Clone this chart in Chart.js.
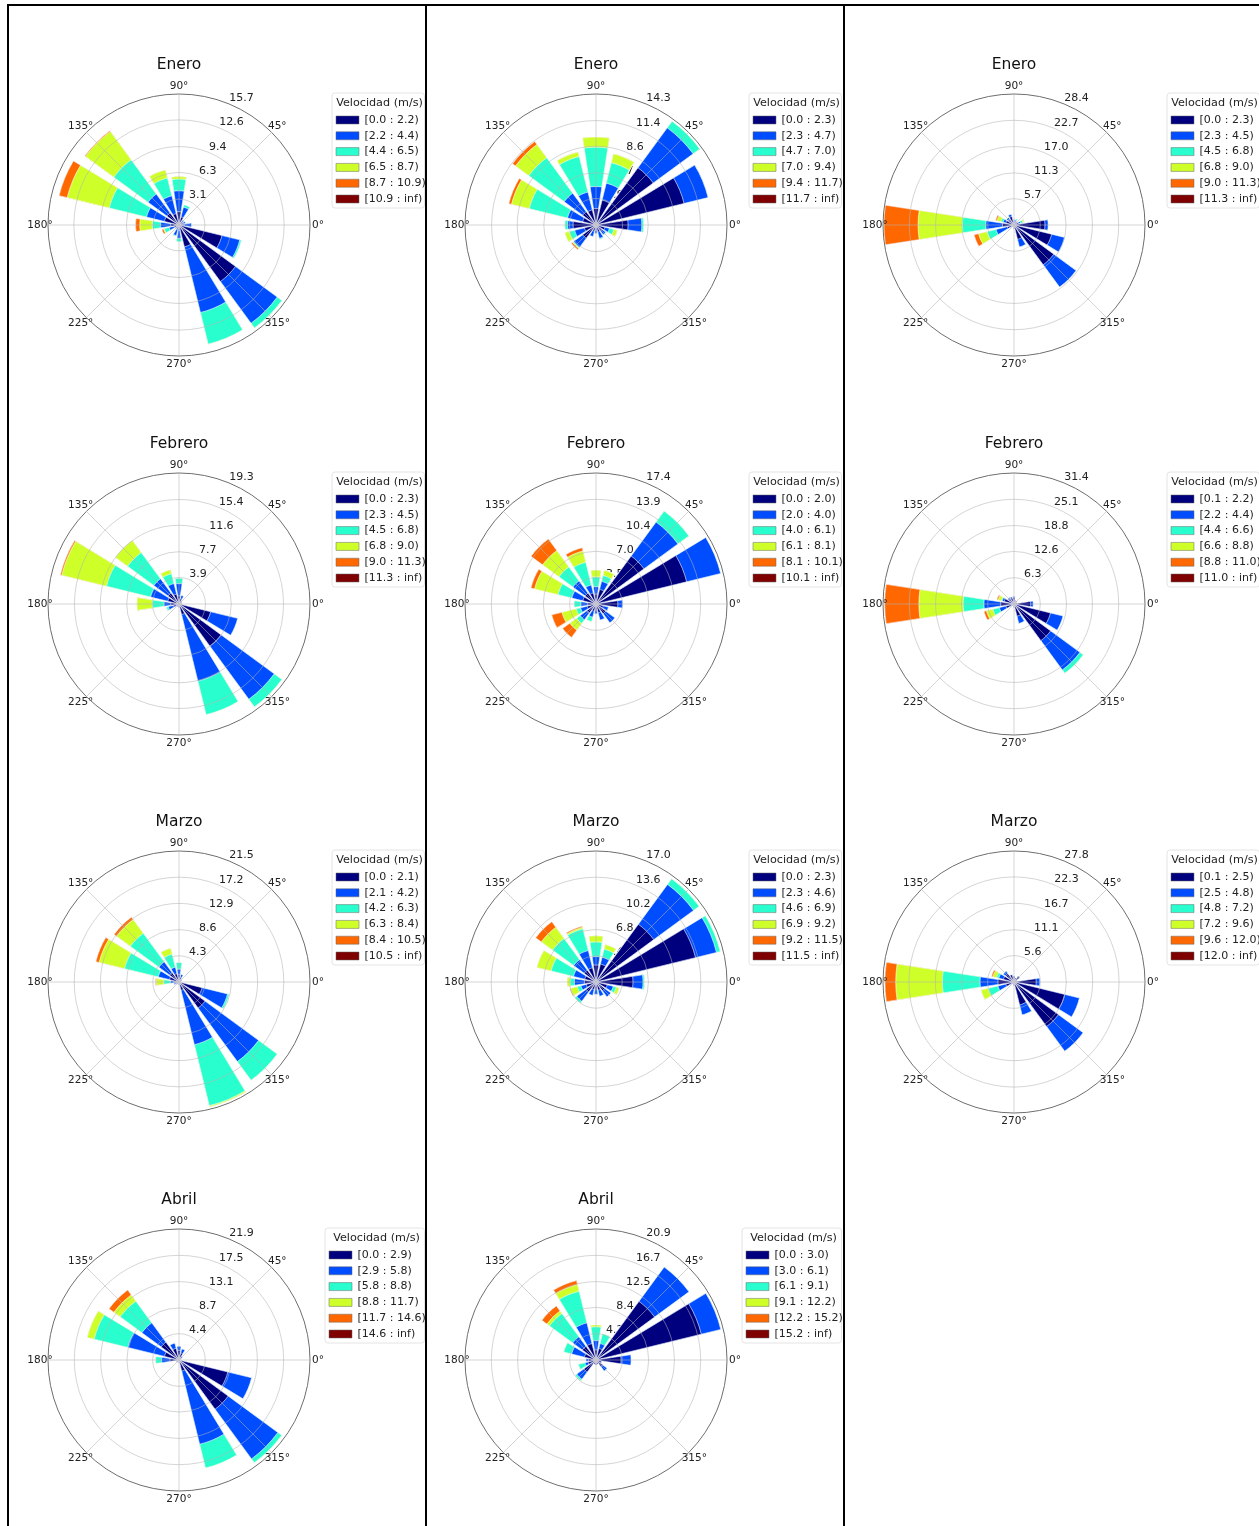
<!DOCTYPE html>
<html>
<head>
<meta charset="utf-8">
<script src="https://cdn.jsdelivr.net/npm/chart.js@4"></script>
<style>
html,body{margin:0;padding:0;background:#fff;width:1259px;height:1526px;overflow:hidden}
#page{position:relative;width:1259px;height:1526px;overflow:hidden}
.rule{position:absolute;background:#000}
canvas{position:absolute;filter:blur(0.35px)}
</style>
</head>
<body>
<div id="page"></div>
<script>
// Directions run clockwise from the top of each rose
const directions = [90,67.5,45,22.5,0,337.5,315,292.5,270,247.5,225,202.5,180,157.5,135,112.5];
const axisLabels = ["90°","45°","0°","315°","270°","225°","180°","135°"];
const binColors = ["#00007f","#004cff","#29ffce","#ceff29","#ff6800","#7f0000"];
const calm = [0,0,0,0,0,0,0,0,0,0,0,0,0,0,0,0];

const eneroA = [
 [1.6,1.0,.5,.5,.6,5.3,8.4,2.7,.6,.5,.3,.6,1.0,1.8,1.8,1.4],
 [2.5,1.2,.2,.3,.9,2.2,6.2,8.1,1.0,.8,.3,.6,1.2,2.2,2.8,2.2],
 [1.4,.3,0,0,0,.2,.7,3.9,.4,.1,0,.6,1.0,4.6,5.1,2.2],
 [.3,0,0,0,0,0,0,0,0,0,0,.1,1.5,5.2,4.2,1.0],
 [0,0,0,0,0,0,0,0,0,0,0,.2,.5,1.0,.1,0], calm];
const eneroB = [
 [1.8,2.8,7.75,9.9,3.5,1.0,.8,.8,.6,.7,1.8,1.3,2.5,1.5,1.8,1.7],
 [2.4,1.9,5.4,2.7,1.5,.5,.5,.7,.3,.6,1.2,1.1,.6,1.7,2.5,2.0],
 [4.3,2.3,.9,0,.2,.5,.1,.1,0,0,.1,.6,.3,4.3,4.8,4.0],
 [1.1,1.0,0,0,0,.4,0,0,0,0,.1,.5,0,2.0,1.8,.5],
 [0,0,0,0,0,0,0,0,0,0,.15,0,0,.3,.4,0], calm];
const eneroC = [
 [1.0,.8,.8,1.0,6.7,8.4,10.7,3.2,.8,.5,.5,1.5,2.5,1.8,1.5,1.9],
 [.2,.3,0,.5,.7,2.9,6.0,1.7,0,0,0,2.5,3.6,.6,.5,.5],
 [0,.3,0,.5,0,0,0,0,0,0,0,2.0,5.1,.5,0,0],
 [0,0,0,.3,0,0,0,0,0,0,0,1.9,9.6,.9,0,0],
 [0,0,0,0,0,0,0,0,0,0,0,1.0,7.4,.3,0,0], calm];
const febreroA = [
 [1.2,.8,.5,.3,.4,4.8,7.7,1.6,.5,.4,.4,.9,1.2,1.7,2.0,1.5],
 [1.8,.5,0,0,0,4.1,9.7,10.1,0,0,0,.7,1.0,2.6,2.6,1.6],
 [.8,0,0,0,0,0,1.4,5.1,0,0,0,.3,1.7,6.7,4.8,1.5],
 [0,0,0,0,0,0,0,0,0,0,0,0,2.3,6.8,2.2,.6],
 [0,0,0,0,0,0,0,0,0,0,0,0,0,.2,0,0], calm];
const febreroB = [
 [1.3,2.0,7.9,12.4,2.9,1.0,1.6,1.2,.8,1.0,1.5,1.2,1.1,1.8,1.8,1.5],
 [1.0,1.1,5.6,4.65,.65,.7,1.5,1.0,.5,.8,1.1,.9,.9,1.5,2.0,1.1],
 [1.3,.8,1.8,0,0,0,0,0,0,.6,.6,.6,.9,1.9,2.3,3.1],
 [.9,.7,0,0,0,0,0,0,0,0,1.1,1.95,0,3.2,2.7,1.55],
 [0,0,0,0,0,0,0,0,0,0,1.2,1.4,0,.5,1.9,.45], calm];
const febreroC = [
 [1.6,.9,.9,.6,4.0,9.0,10.9,3.0,.8,.4,.4,2.0,3.2,2.4,1.6,1.5],
 [.2,0,0,0,.6,3.1,8.7,1.8,0,0,0,1.6,4.0,.5,.3,.3],
 [0,0,0,0,0,0,1.0,0,0,0,0,1.6,5.0,.2,0,0],
 [0,0,0,0,0,0,0,0,0,0,0,1.6,10.6,.8,0,0],
 [0,0,0,0,0,0,0,0,0,0,0,.6,8.2,.3,0,0], calm];
const marzoA = [
 [1.2,.8,.5,.3,.3,3.9,5.3,1.4,.4,.4,.4,.6,.8,1.6,1.9,1.4],
 [.9,.5,0,0,0,4.3,10.9,9.2,0,0,0,.3,.6,1.9,2.2,1.1],
 [1.1,0,0,0,0,.3,3.8,10.3,0,0,0,0,1.1,5.7,5.8,2.2],
 [0,0,0,0,0,0,0,.2,0,0,0,0,1.2,4.3,2.8,1.0],
 [0,0,0,0,0,0,0,0,0,0,0,0,.15,.55,.5,0], calm];
const marzoB = [
 [2.2,2.4,9.3,13.3,4.8,1.5,1.4,1.1,.9,1.0,1.6,1.3,1.5,1.5,1.9,1.9],
 [1.1,.9,6.4,2.8,1.3,.8,1.0,.8,.7,.8,1.5,.7,1.3,1.5,1.7,2.3],
 [1.9,1.1,.9,.5,.2,.4,0,0,0,0,.3,.5,.55,3.0,3.4,2.9],
 [.8,.6,0,0,0,.4,0,0,0,0,0,.9,.4,1.9,1.8,.2],
 [0,0,0,0,0,0,0,0,0,0,0,.1,0,0,.9,.15], calm];
const marzoC = [
 [1.2,.9,1.5,.7,4.7,11.1,11.7,5.0,.8,.5,.5,1.8,3.4,2.3,2.2,1.6],
 [0,0,0,0,.8,3.2,6.5,2.2,0,0,0,1.7,3.8,1.0,.6,0],
 [0,0,0,0,0,0,0,0,0,0,0,2.1,8.0,.5,0,0],
 [0,0,0,0,0,0,0,0,0,0,0,1.6,9.9,.8,0,0],
 [0,0,0,0,0,0,0,0,0,0,0,0,2.3,.3,0,0], calm];
const abrilA = [
 [1.6,1.2,.7,.3,.3,8.4,10.2,1.9,.4,.4,.4,.5,1.5,2.5,3.7,2.0],
 [.7,.7,0,0,0,4.1,10.3,12.6,0,0,0,0,1.4,6.3,4.0,.9],
 [0,0,0,0,0,0,.8,4.1,0,0,0,0,1.0,5.8,4.5,0],
 [0,0,0,0,0,0,0,0,0,0,0,0,0,1.2,1.3,0],
 [0,0,0,0,0,0,0,0,0,0,0,0,0,0,1.0,0], calm];
const abrilB = [
 [1.6,1.9,11.6,17.3,4.0,.9,1.3,.7,.8,.7,2.4,1.3,1.2,1.9,2.7,2.7],
 [1.5,.8,6.8,3.2,1.6,0,.9,0,0,0,1.4,.5,.4,2.1,1.9,3.4],
 [2.2,1.6,0,0,0,0,0,0,0,0,.3,1.1,0,1.3,4.6,5.2],
 [.3,0,0,0,0,0,0,0,0,0,0,0,0,0,.5,1.1],
 [0,0,0,0,0,0,0,0,0,0,0,0,0,0,1.0,.65], calm];

const eneroATicks = [3.1,6.3,9.4,12.6,15.7],   eneroAEdges = [0.0,2.2,4.4,6.5,8.7,10.9];
const eneroBTicks = [2.9,5.7,8.6,11.4,14.3],   eneroBEdges = [0.0,2.3,4.7,7.0,9.4,11.7];
const eneroCTicks = [5.7,11.3,17.0,22.7,28.4], eneroCEdges = [0.0,2.3,4.5,6.8,9.0,11.3];
const febreroATicks = [3.9,7.7,11.6,15.4,19.3],  febreroAEdges = [0.0,2.3,4.5,6.8,9.0,11.3];
const febreroBTicks = [3.5,7.0,10.4,13.9,17.4],  febreroBEdges = [0.0,2.0,4.0,6.1,8.1,10.1];
const febreroCTicks = [6.3,12.6,18.8,25.1,31.4], febreroCEdges = [0.1,2.2,4.4,6.6,8.8,11.0];
const marzoATicks = [4.3,8.6,12.9,17.2,21.5],  marzoAEdges = [0.0,2.1,4.2,6.3,8.4,10.5];
const marzoBTicks = [3.4,6.8,10.2,13.6,17.0],  marzoBEdges = [0.0,2.3,4.6,6.9,9.2,11.5];
const marzoCTicks = [5.6,11.1,16.7,22.3,27.8], marzoCEdges = [0.1,2.5,4.8,7.2,9.6,12.0];
const abrilATicks = [4.4,8.7,13.1,17.5,21.9],  abrilAEdges = [0.0,2.9,5.8,8.8,11.7,14.6];
const abrilBTicks = [4.2,8.4,12.5,16.7,20.9],  abrilBEdges = [0.0,3.0,6.1,9.1,12.2,15.2];

const panels = [
 ["Enero",0,0,eneroA,eneroATicks,eneroAEdges],
 ["Enero",1,0,eneroB,eneroBTicks,eneroBEdges],
 ["Enero",2,0,eneroC,eneroCTicks,eneroCEdges],
 ["Febrero",0,1,febreroA,febreroATicks,febreroAEdges],
 ["Febrero",1,1,febreroB,febreroBTicks,febreroBEdges],
 ["Febrero",2,1,febreroC,febreroCTicks,febreroCEdges],
 ["Marzo",0,2,marzoA,marzoATicks,marzoAEdges],
 ["Marzo",1,2,marzoB,marzoBTicks,marzoBEdges],
 ["Marzo",2,2,marzoC,marzoCTicks,marzoCEdges],
 ["Abril",0,3,abrilA,abrilATicks,abrilAEdges],
 ["Abril",1,3,abrilB,abrilBTicks,abrilBEdges]
];

// ---- page frame ----
const page = document.getElementById("page");
[[7,5,2,1521],[425,5,2,1521],[843,5,2,1521],[7,4,1252,2]].forEach(r=>{
  const d=document.createElement("div"); d.className="rule";
  d.style.cssText=`left:${r[0]}px;top:${r[1]}px;width:${r[2]}px;height:${r[3]}px`;
  page.appendChild(d);
});

Chart.defaults.font.family = '"DejaVu Sans"';
Chart.defaults.color = "#222";
Chart.defaults.animation = false;

const CANVAS_W = 425, CANVAS_H = 380, CENTER_X = 179;
const colLeft = [0,417,835];
const rowTop = [35,414,792,1170];
const BAR_ANGLE = 17.5, GAP_ANGLE = 5;
const LABEL_RADIUS = 139;

const rosePlugin = {
  id:"rose",
  beforeDraw(chart){
    const o = chart.options.plugins.rose, c = chart.ctx;
    c.save();
    c.fillStyle="rgba(255,255,255,0.8)";
    c.strokeStyle="#e4e4e4"; c.lineWidth=1;
    c.beginPath();
    c.roundRect(o.frameLeft,58,424.5-o.frameLeft,115,3);
    c.fill(); c.stroke();
    c.restore();
  },
  afterLayout(chart){
    const o = chart.options.plugins.rose, l = chart.legend, s = chart.scales.r;
    // legend placed beside the rose
    l.left = o.patchX - l.options.labels.padding;
    l.width = 2*(o.titleX - l.left);
    l.right = l.left + l.width;
    l.top = 62.4; l.height = 116; l.bottom = l.top + l.height;
    l.adjustHitBoxes();
    // direction labels centred on a ring just outside the outer circle
    const lh = Chart.helpers.toFont(s.options.pointLabels.font).lineHeight;
    s._pointLabelItems.forEach((it,i)=>{
      const p = s.getPointPosition(i, LABEL_RADIUS);
      it.x = p.x; it.y = p.y - lh/2; it.textAlign = "center";
    });
  },
  beforeDatasetsDraw(chart){
    const s = chart.scales.r, c = chart.ctx;
    c.save();
    c.font = '11px "DejaVu Sans"';
    c.fillStyle = "#222"; c.textAlign="left"; c.textBaseline="bottom";
    s.ticks.forEach(t=>{
      if(!t.value) return;
      const p = s.getPointPositionForValue(2, t.value);
      c.fillText(t.value.toFixed(1), p.x, p.y);
    });
    c.restore();
  }
};

panels.forEach(([title,col,row,bins,ticks,edges])=>{
  const cv = document.createElement("canvas");
  cv.width = CANVAS_W; cv.height = CANVAS_H;
  cv.style.left = colLeft[col]+"px";
  cv.style.top = rowTop[row]+"px";
  page.appendChild(cv);
  const wide = row===3;
  // element 0 is a lead-in spacer, then bar/gap pairs clockwise
  const labels = [];
  for(let i=0;i<32;i++) labels.push(i%4===0 ? axisLabels[i/4] : "");
  const running = directions.map(()=>0);
  const datasets = bins.map((bin,b)=>{
    bin.forEach((v,i)=>running[i]+=v);
    const data = [0];
    running.forEach((v,i)=>{ data.push(+v.toFixed(3)); if(i<15) data.push(0); });
    const lo = edges[b].toFixed(1), hi = b<5 ? edges[b+1].toFixed(1) : "inf";
    return {
      label:`[${lo} : ${hi})`,
      data,
      backgroundColor:binColors[b],
      borderColor:"#fff",
      borderWidth:ctx=>ctx.dataIndex%2===1?0.6:0,
      angle:ctx=>ctx.dataIndex===0?360-BAR_ANGLE/2:(ctx.dataIndex%2===1?BAR_ANGLE:GAP_ANGLE)
    };
  });
  new Chart(cv,{
    type:"polarArea",
    data:{labels,datasets},
    plugins:[rosePlugin],
    options:{
      responsive:false,
      maintainAspectRatio:false,
      devicePixelRatio:1,
      animation:false,
      layout:{padding:{left:0,top:0,right:CANVAS_W-2*CENTER_X,bottom:CANVAS_H-337}},
      scales:{r:{
        min:0,max:ticks[4],
        afterBuildTicks(axis){ axis.ticks=[0,...ticks].map(v=>({value:v})); },
        ticks:{display:false},
        grid:{
          z:1,circular:true,
          color:ctx=>ctx.index===5?"#6e6e6e":"rgba(178,178,178,0.55)",
          lineWidth:1
        },
        angleLines:{
          display:true,
          color:"rgba(178,178,178,0.55)",
          lineWidth:ctx=>ctx.index%4===0?1:0
        },
        pointLabels:{
          display:true,padding:3.4,color:"#222",
          font:{size:10.5,family:'"DejaVu Sans"'},
          callback:(v)=>v
        }
      }},
      plugins:{
        title:{display:true,text:title,color:"#111",
          font:{size:15.5,weight:"normal",family:'"DejaVu Sans"'},
          padding:{top:20.2,bottom:4.2}},
        tooltip:{enabled:false},
        legend:{
          display:true,position:"chartArea",align:"start",
          title:{display:true,text:"Velocidad (m/s)",color:"#222",
            font:{size:11.2,lineHeight:1,family:'"DejaVu Sans"'},
            padding:{top:0,bottom:1.1}},
          labels:{
            boxWidth:23,boxHeight:8,padding:4.8,color:"#222",
            font:{size:11,family:'"DejaVu Sans"'},
            generateLabels:c=>c.data.datasets.map((d,i)=>({
              text:d.label,fillStyle:d.backgroundColor,strokeStyle:"#666",
              lineWidth:0.5,hidden:false,datasetIndex:i}))
          }
        },
        rose:{
          patchX:wide?329:336,
          titleX:wide?376.5:379.5,
          frameLeft:wide?325:332
        }
      }
    }
  });
  cv.style.position="absolute";
  cv.style.left = colLeft[col]+"px";
  cv.style.top = rowTop[row]+"px";
});
</script>
</body>
</html>
